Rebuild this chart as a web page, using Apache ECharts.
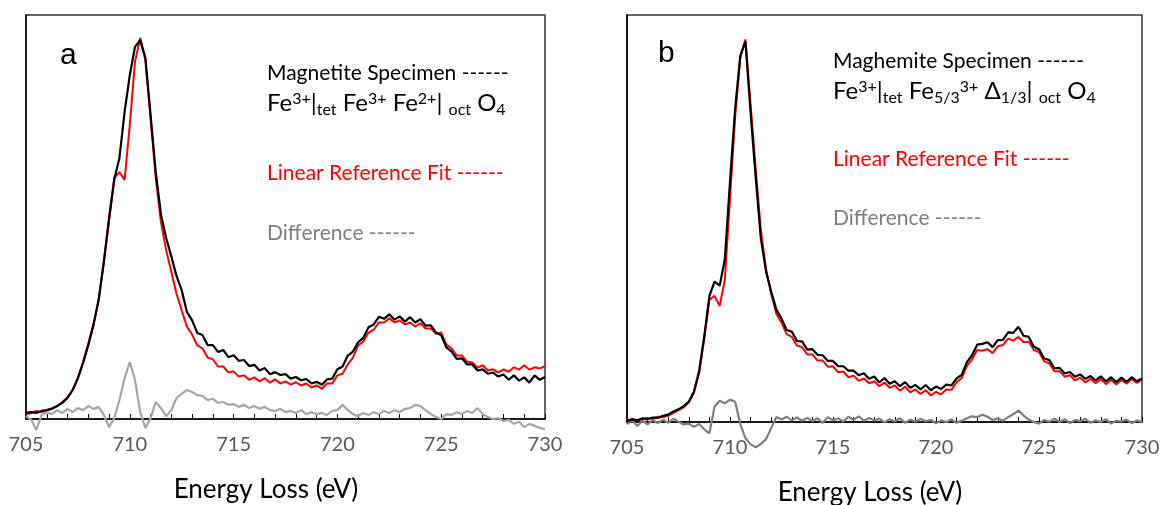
<!DOCTYPE html>
<html><head><meta charset="utf-8">
<script src="https://cdn.jsdelivr.net/npm/echarts@6/dist/echarts.min.js"></script>
<style>html,body{margin:0;padding:0;background:#fff}#c{width:1163px;height:505px}</style>
</head><body><div id="c"></div>
<script>
// Energy loss grid (eV)
const energy = [
705,705.25,705.5,705.75, 706,706.25,706.5,706.75, 707,707.25,707.5,707.75,
708,708.25,708.5,708.75, 709,709.25,709.5,709.75, 710,710.25,710.5,710.75,
711,711.25,711.5,711.75, 712,712.25,712.5,712.75, 713,713.25,713.5,713.75,
714,714.25,714.5,714.75, 715,715.25,715.5,715.75, 716,716.25,716.5,716.75,
717,717.25,717.5,717.75, 718,718.25,718.5,718.75, 719,719.25,719.5,719.75,
720,720.25,720.5,720.75, 721,721.25,721.5,721.75, 722,722.25,722.5,722.75,
723,723.25,723.5,723.75, 724,724.25,724.5,724.75, 725,725.25,725.5,725.75,
726,726.25,726.5,726.75, 727,727.25,727.5,727.75, 728,728.25,728.5,728.75,
729,729.25,729.5,729.75, 730];
const tickLabels = [705, 710, 715, 720, 725, 730];

// Panel a (intensity, arbitrary units)
const magnetite = [
1.5,1.7,1.5,2.0, 2.2,2.5,3.2,4.0, 5.2,7.2,10.1,13.9, 18.3,23.3,29.5,38.9,
49.8,59.2,64.6,76.0, 85.1,92.1,93.8,89.4, 75.2,61.1,50.7,44.8,
40.3,35.4,31.9,26.5, 24.4,21.3,20.8,18.3, 18.3,16.6,17.1,15.3, 15.8,14.4,14.6,13.1,
13.4,12.0,12.6,11.1, 11.6,10.9,11.1,10.0, 10.4,9.6,9.9,8.8, 9.2,8.5,9.8,10.0,
12.3,13.0,15.7,16.7, 19.0,20.1,22.7,23.4, 25.3,24.8,25.9,24.6, 25.4,24.1,25.2,23.9,
24.7,23.1,23.2,21.4, 20.7,17.7,16.7,14.9, 15.0,13.5,13.5,12.0, 12.3,11.2,11.5,10.5,
11.0,9.7,10.8,9.5, 10.3,9.0,10.8,9.7, 10.4];
const magnetiteFit = [
1.2,1.5,2.0,1.7, 2.2,2.7,3.2,4.2, 5.4,7.2,10.1,14.1, 18.6,23.3,29.5,38.9,
48.8,59.7,61.1,59.2, 72.8,88.4,94.3,88.9, 74.5,59.7,48.8,41.8,
36.4,31.0,26.9,22.9, 20.9,18.2,17.5,15.2, 14.8,13.0,13.0,11.5, 11.8,10.5,10.8,9.7,
10.3,9.3,10.1,9.0, 9.8,8.8,9.3,8.5, 9.1,8.3,8.8,7.8, 8.3,7.5,8.8,8.8,
10.8,11.2,13.5,15.2, 18.2,19.2,21.4,22.1, 23.9,23.9,24.9,23.9, 24.4,23.4,23.9,22.9,
23.7,22.4,22.4,21.1, 21.4,18.4,17.5,15.7, 15.7,14.2,14.0,12.7, 13.3,12.0,12.3,11.5,
12.3,11.7,12.8,12.2, 13.3,12.2,12.8,12.5, 13.1];
const magnetiteDiff = [
0.7,-0.2,-2.7,1.0, 1.7,1.2,2.2,1.5, 2.5,1.7,2.7,2.2, 3.2,2.5,3.0,1.0,
-2.0,0.2,4.7,10.1, 14.1,9.7,1.7,-2.2, 0.2,4.2,2.7,0.7, 2.2,5.2,6.2,7.2,
6.7,5.9,5.7,4.7, 5.0,4.0,4.2,3.5, 3.7,3.0,3.5,2.7, 3.2,2.5,3.0,2.2,
2.0,2.5,1.7,2.0, 1.5,2.2,1.2,1.7, 1.2,1.5,1.0,2.0, 2.2,3.5,2.2,1.2,
0.7,1.5,1.0,1.7, 1.2,2.0,1.5,2.2, 1.7,2.5,2.7,3.5, 3.2,2.2,1.2,0.5,
0.0,1.2,1.0,1.7, 1.2,2.0,1.5,2.7, 1.2,0.5,0.0,0.2, -0.5,-0.2,-1.2,-0.7,
-2.0,-1.2,-1.7,-2.2, -2.5];

// Panel b
const maghemite = [
0.3,0.6,0.4,0.9, 0.7,1.1,1.0,1.5, 1.8,2.6,3.1,3.9, 5.0,7.5,12.5,21.0,
31.0,34.5,33.5,40.0, 59.0,77.0,90.0,93.5, 76.0,60.0,45.0,37.0,
32.0,27.6,25.4,22.6, 22.2,19.9,19.8,17.8, 17.9,16.5,16.4,15.0, 15.0,13.7,13.7,12.6,
12.6,11.5,12.0,10.6, 11.2,9.7,10.8,9.4, 10.0,8.8,9.8,8.4, 9.1,8.0,9.1,7.8,
8.7,8.1,9.2,9.0, 10.7,11.6,14.7,16.4, 19.0,19.2,19.6,18.4, 20.1,20.2,22.0,21.9,
23.4,21.2,20.9,18.5, 17.9,15.6,15.2,13.2, 13.3,11.9,12.3,11.1, 11.7,10.6,11.3,10.2,
11.2,10.0,11.0,9.8, 10.9,9.9,11.0,10.0, 10.7];
const maghemiteFit = [
0.2,0.8,0.3,0.7, 1.0,0.8,1.3,1.2, 1.6,2.2,2.9,3.6, 4.8,7.2,12.0,20.5,
30.0,31.0,28.5,35.0, 55.0,75.0,89.5,94.0, 78.0,62.0,47.0,37.5,
31.5,26.6,24.4,21.6, 20.9,18.8,18.4,16.6, 16.6,15.1,15.1,13.6, 13.7,12.2,12.4,11.0,
11.4,10.1,10.7,9.5, 10.0,8.8,9.7,8.4, 9.0,7.7,8.7,7.3, 8.0,6.9,7.8,6.5,
7.4,6.8,8.0,7.9, 9.8,10.8,13.8,15.4, 17.7,17.5,17.9,16.9, 18.6,18.9,20.5,20.0,
20.9,19.6,19.7,17.7, 17.2,14.9,14.4,12.5, 12.5,11.1,11.5,10.2, 10.9,9.7,10.6,9.5,
10.5,9.3,10.4,9.2, 10.4,9.4,10.6,9.6, 10.4];
const maghemiteDiff = [
-0.5,0.4,-1.0,0.3, -0.6,0.5,-0.3,0.6, -0.2,0.8,0.1,-0.6, -0.4,-1.2,-0.5,-1.8,
-2.8,3.8,5.2,4.6, 5.5,5.0,-0.5,-4.0, -5.5,-6.2,-5.4,-4.2, -1.5,1.2,0.6,1.3,
0.4,1.1,0.3,1.0, 0.2,0.9,-0.2,1.2, 0.4,0.9,0.1,1.3, 0.5,1.4,0.3,1.0,
0.4,0.8,-0.1,0.7, 0.2,0.9,-0.2,0.6, 0.1,0.8,0.2,0.5, -0.3,0.4,0.0,0.6,
-0.2,0.3,0.9,1.4, 1.2,1.8,1.3,0.5, 0.9,0.3,1.2,1.9, 2.8,1.6,0.6,0.0,
-0.4,0.5,0.1,0.8, 0.0,0.7,-0.3,0.5, 0.2,0.8,-0.2,0.4, 0.0,0.7,-0.4,0.3,
0.1,0.6,-0.3,0.4, 0.0];

const FONT = 'Lato, "Open Sans", sans-serif';
function pairs(v) { return energy.map((e, i) => [e, v[i]]); }

function xAxisFor(gridIndex) {
  return {
    type: 'value', gridIndex: gridIndex, min: 705, max: 730, interval: 1,
    axisLine: { show: true, onZero: false, lineStyle: { color: '#000', width: 1.5 } },
    axisTick: { show: true, inside: true, length: 5, lineStyle: { color: '#000', width: 1 } },
    axisLabel: {
      show: true, margin: 16, color: '#595959', fontSize: 20, fontFamily: FONT,
      formatter: v => tickLabels.includes(v) ? String(v) : ''
    },
    splitLine: { show: false }
  };
}
function yAxisFor(gridIndex) {
  return {
    type: 'value', gridIndex: gridIndex, min: 0, max: 100,
    axisLine: { show: true, lineStyle: { color: '#000', width: 1.5 } },
    axisTick: { show: false }, axisLabel: { show: false }, splitLine: { show: false }
  };
}
function line(idx, name, vals, color, width) {
  return {
    type: 'line', name: name, xAxisIndex: idx, yAxisIndex: idx, data: pairs(vals),
    showSymbol: false, symbol: 'none', clip: false, smooth: false,
    lineStyle: { color: color, width: width }, silent: true
  };
}
function txt(x, y, text, color, size, family, align) {
  return {
    type: 'text', x: x, y: y, silent: true,
    style: {
      text: text, fill: color, fontSize: size, fontFamily: family || FONT,
      align: align || 'left', verticalAlign: 'middle',
      textAlign: align || 'left', textVerticalAlign: 'middle'
    }
  };
}
function formula(x, y, text) {
  const base = { fill: '#000', fontFamily: FONT };
  return {
    type: 'text', x: x, y: y, silent: true,
    style: {
      text: text, fill: '#000', fontSize: 24, fontFamily: FONT,
      align: 'left', verticalAlign: 'middle', textAlign: 'left', textVerticalAlign: 'middle',
      rich: {
        n: Object.assign({ fontSize: 24, lineHeight: 34, verticalAlign: 'middle' }, base),
        sup: Object.assign({ fontSize: 16, lineHeight: 16, verticalAlign: 'top', padding: [5, 0, 0, 0] }, base),
        sub: Object.assign({ fontSize: 16, lineHeight: 16, verticalAlign: 'bottom', padding: [0, 0, 2, 0] }, base)
      }
    }
  };
}

const chart = echarts.init(document.getElementById('c'), null, { renderer: 'canvas' });
chart.setOption({
  animation: false,
  backgroundColor: '#fff',
  grid: [
    { left: 26, top: 15, width: 519, height: 404, show: true, borderColor: '#333', borderWidth: 1.5, backgroundColor: 'transparent' },
    { left: 627, top: 15, width: 515, height: 407, show: true, borderColor: '#333', borderWidth: 1.5, backgroundColor: 'transparent' }
  ],
  xAxis: [xAxisFor(0), xAxisFor(1)],
  yAxis: [yAxisFor(0), yAxisFor(1)],
  series: [
    line(0, 'Difference', magnetiteDiff, '#a6a6a6', 2.2),
    line(0, 'Linear Reference Fit', magnetiteFit, '#ff0000', 2),
    line(0, 'Magnetite Specimen', magnetite, '#000000', 2.2),
    line(1, 'Difference', maghemiteDiff, '#7f7f7f', 2.2),
    line(1, 'Linear Reference Fit', maghemiteFit, '#ff0000', 2),
    line(1, 'Maghemite Specimen', maghemite, '#000000', 2.2)
  ],
  graphic: [
    txt(60, 56, 'a', '#000', 30, '"Liberation Sans", Arial, sans-serif'),
    txt(267, 73, 'Magnetite Specimen ------', '#000', 21),
    formula(267, 103, '{n|Fe}{sup|3+}{n||}{sub|tet}{n| Fe}{sup|3+}{n| Fe}{sup|2+}{n|| }{sub|oct}{n| O}{sub|4}'),
    txt(267, 173, 'Linear Reference Fit ------', '#ff0000', 21),
    txt(267, 233, 'Difference ------', '#7f7f7f', 21),
    txt(266, 490, 'Energy Loss (eV)', '#000', 26, null, 'center'),

    txt(658, 54, 'b', '#000', 30, '"Liberation Sans", Arial, sans-serif'),
    txt(833, 61, 'Maghemite Specimen ------', '#000', 21),
    formula(833, 91, '{n|Fe}{sup|3+}{n||}{sub|tet}{n| Fe}{sub|5/3}{sup|3+}{n| \u0394}{sub|1/3}{n|| }{sub|oct}{n| O}{sub|4}'),
    txt(833, 159, 'Linear Reference Fit ------', '#ff0000', 21),
    txt(833, 218, 'Difference ------', '#7f7f7f', 21),
    txt(870, 493, 'Energy Loss (eV)', '#000', 26, null, 'center')
  ]
});
</script></body></html>
